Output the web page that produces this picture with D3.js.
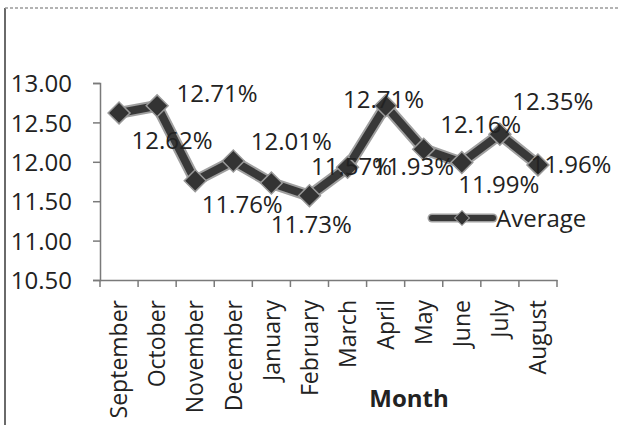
<!DOCTYPE html>
<html>
<head>
<meta charset="utf-8">
<script src="https://cdn.jsdelivr.net/npm/d3@7"></script>
<style>
  html, body { margin: 0; padding: 0; background: #fff; }
  svg { display: block; font-family: "Open Sans", "Noto Sans", sans-serif; }
</style>
</head>
<body>
<svg id="chart" width="620" height="425"></svg>
<script>
// Monthly averages (percent), September through August
const months = ["September", "October", "November", "December", "January", "February",
                "March", "April", "May", "June", "July", "August"];
const averages = [12.62, 12.71, 11.76, 12.01, 11.73, 11.57, 11.93, 12.71, 12.16, 11.99, 12.35, 11.96];
const yTicks = [10.5, 11.0, 11.5, 12.0, 12.5, 13.0];
const seriesName = "Average";
const axisTitle = "Month";

// Data label placement relative to each point: [dx, dy to baseline]
const labelOffsets = [[53, 36], [60, -4], [47, 32], [58, -11], [40, 50], [42, -21],
                      [66, 8], [-2, 2], [57, -16], [37, 30], [53, -24], [33, 8]];

const svg = d3.select("#chart");
const plot = { left: 100, right: 557, top: 83, bottom: 280 };

const x = d3.scaleBand().domain(months).range([plot.left, plot.right]).paddingInner(0).paddingOuter(0);
const y = d3.scaleLinear().domain([10.5, 13]).range([plot.bottom, plot.top]);

const axisColor = "#7a7a7a";
const textColor = "#222";

// Outer frame: solid left edge, dotted top edge
svg.append("line").attr("x1", 5).attr("x2", 5).attr("y1", 8).attr("y2", 425)
  .attr("stroke", "#6a6a6a").attr("stroke-width", 2);
svg.append("line").attr("x1", 5).attr("x2", 620).attr("y1", 8).attr("y2", 8)
  .attr("stroke", "#9a9a9a").attr("stroke-width", 1.5).attr("stroke-dasharray", "3,2");

// Y axis
const yAxis = svg.append("g").attr("transform", `translate(${plot.left},0)`)
  .call(d3.axisLeft(y).tickValues(yTicks).tickFormat(d3.format(".2f")).tickSize(7).tickPadding(21));
yAxis.select(".domain").attr("stroke", axisColor).attr("stroke-width", 1.5);
yAxis.selectAll(".tick line").attr("stroke", axisColor).attr("stroke-width", 1.5);
yAxis.selectAll(".tick text").attr("fill", textColor).style("font-size", "24px")
  .style("font-family", "'Open Sans', sans-serif").attr("dy", "0.36em");

// X axis: labels at band centres, tick marks at band boundaries
const xAxis = svg.append("g").attr("transform", `translate(0,${plot.bottom})`)
  .call(d3.axisBottom(x).tickSize(0).tickSizeOuter(0));
xAxis.select(".domain").attr("stroke", axisColor).attr("stroke-width", 1.5);
xAxis.selectAll(".tick text")
  .attr("fill", textColor).style("font-size", "23px").style("font-family", "'Open Sans', sans-serif")
  .attr("text-anchor", "end")
  .attr("transform", "rotate(-90)")
  .attr("x", -20).attr("y", 0).attr("dy", "0.36em");
const boundaries = months.map(m => x(m)).concat([x(months[months.length - 1]) + x.bandwidth()]);
xAxis.selectAll(".bound").data(boundaries).join("line")
  .attr("class", "bound")
  .attr("x1", d => d).attr("x2", d => d).attr("y1", 0).attr("y2", 7)
  .attr("stroke", axisColor).attr("stroke-width", 1.5);

// Axis title
svg.append("text").attr("x", 409).attr("y", 407).attr("text-anchor", "middle")
  .attr("fill", textColor).style("font-size", "24px").style("font-weight", "bold")
  .text(axisTitle);

const cx = (d, i) => x(months[i]) + x.bandwidth() / 2;
const cy = d => y(d);

// Series line with a soft halo, then markers
const line = d3.line().x(cx).y(cy);
svg.append("path").datum(averages).attr("d", line)
  .attr("fill", "none").attr("stroke", "#a0a0a0").attr("stroke-width", 12)
  .attr("stroke-linejoin", "round").attr("stroke-linecap", "round");
svg.append("path").datum(averages).attr("d", line)
  .attr("fill", "none").attr("stroke", "#383838").attr("stroke-width", 8)
  .attr("stroke-linejoin", "round").attr("stroke-linecap", "round");

const diamond = d3.symbol(d3.symbolSquare, 240);
svg.append("g").selectAll("path").data(averages).join("path")
  .attr("d", diamond)
  .attr("transform", (d, i) => `translate(${cx(d, i)},${cy(d)}) rotate(45)`)
  .attr("fill", "#333").attr("stroke", "#999").attr("stroke-width", 1.5);

// Data labels
svg.append("g").selectAll("text").data(averages).join("text")
  .attr("x", (d, i) => cx(d, i) + labelOffsets[i][0])
  .attr("y", (d, i) => cy(d) + labelOffsets[i][1])
  .attr("text-anchor", "middle")
  .attr("fill", textColor).style("font-size", "24px")
  .text(d => d.toFixed(2) + "%");

// Legend
const legend = svg.append("g").attr("transform", "translate(432,218)");
legend.append("line").attr("x1", 0).attr("x2", 61).attr("y1", 0).attr("y2", 0)
  .attr("stroke", "#a0a0a0").attr("stroke-width", 9).attr("stroke-linecap", "round");
legend.append("line").attr("x1", 0).attr("x2", 61).attr("y1", 0).attr("y2", 0)
  .attr("stroke", "#383838").attr("stroke-width", 6).attr("stroke-linecap", "round");
legend.append("path").attr("d", d3.symbol(d3.symbolSquare, 110))
  .attr("transform", "translate(30,0) rotate(45)")
  .attr("fill", "#333").attr("stroke", "#999").attr("stroke-width", 1);
legend.append("text").attr("x", 64).attr("y", 0).attr("dy", "0.36em")
  .attr("fill", textColor).style("font-size", "24px").text(seriesName);
</script>
</body>
</html>
